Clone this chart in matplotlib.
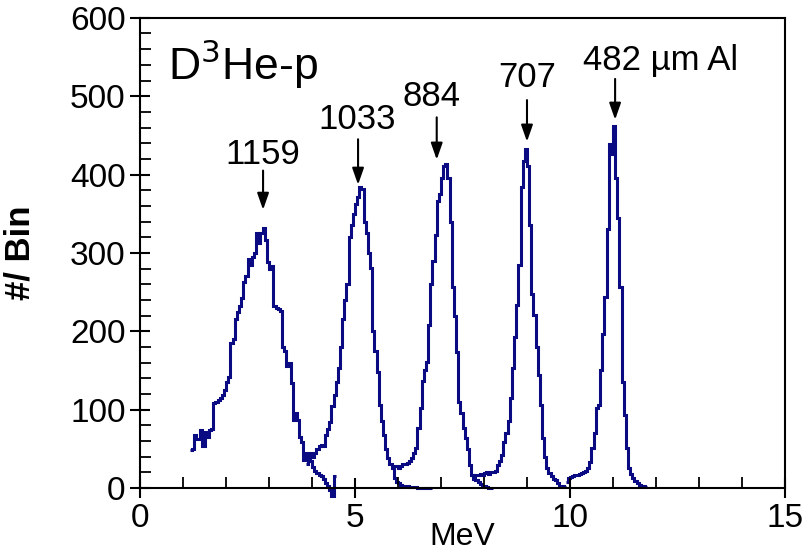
import numpy as np
import matplotlib
matplotlib.use("Agg")
import matplotlib.pyplot as plt
from matplotlib.ticker import MultipleLocator

plt.rcParams['font.family'] = ['Liberation Sans', 'DejaVu Sans']

# bin width of the spectra (MeV)
bin_w = 0.05

# each filter thickness: first bin edge (MeV) and counts per bin
start_1159 = 1.15
counts_1159 = [49, 50, 68, 62, 62, 74, 53, 72, 65, 74, 75, 108, 110, 112, 115,
               118, 125, 135, 142, 185, 190, 215, 225, 232, 243, 263, 270, 292,
               285, 295, 300, 326, 313, 325, 332, 317, 288, 280, 283, 232, 230,
               228, 226, 180, 175, 155, 160, 134, 87, 95, 87, 65, 58, 36, 45,
               40, 35, 27, 22, 19, 17, 15, 12, 6, 3, -3, -10, 15]

start_1033 = 3.85
counts_1033 = [30, 40, 45, 40, 45, 50, 53, 55, 53, 68, 75, 84, 104, 119, 135,
               153, 180, 215, 240, 260, 320, 336, 350, 362, 371, 384, 381, 340,
               325, 300, 281, 200, 175, 148, 106, 85, 68, 50, 38, 30, 26, 13, 8,
               6, 4, 3, 2, 2, 1, 1, 1, 1, 0, 0, 0, 0, 0, 0, 0]

start_884 = 5.85
counts_884 = [26, 28, 28, 26, 28, 30, 30, 32, 35, 38, 45, 51, 77, 102, 136, 150,
              161, 208, 260, 289, 323, 366, 375, 396, 411, 413, 395, 340, 256,
              220, 174, 110, 95, 77, 64, 50, 29, 17, 12, 10, 8, 5, 3, 2, 1, 0, 0]

start_707 = 7.7
counts_707 = [17, 15, 16, 17, 18, 17, 19, 20, 18, 20, 20, 22, 29, 35, 42, 59,
              70, 85, 115, 153, 192, 234, 285, 384, 417, 432, 411, 336, 247, 221,
              180, 144, 106, 64, 40, 26, 19, 15, 12, 10, 6, 3, 2, 1]

start_482 = 9.9
counts_482 = [8, 13, 14, 15, 17, 17, 18, 19, 20, 22, 26, 33, 51, 70, 102, 106,
              150, 196, 244, 330, 439, 426, 462, 396, 345, 256, 135, 93, 51, 26,
              18, 13, 9, 6, 4, 3, 2, 1]

spectra = [(start_1159, counts_1159), (start_1033, counts_1033),
           (start_884, counts_884), (start_707, counts_707),
           (start_482, counts_482)]

# labels: text, text position, arrow tip, arrow tail
labels = ["1159", "1033", "884", "707", "482 \u00b5m Al"]
label_xy = [(2.85, 426), (5.05, 470), (6.78, 499), (9.0, 524), (10.3, 546)]
arrow_tip = [(2.86, 355), (5.07, 387), (6.9, 419), (9.0, 442), (11.05, 470)]
arrow_tail = [(2.86, 405), (5.07, 445), (6.9, 473), (9.0, 495), (11.05, 522)]

line_color = '#0a0a82'

fig = plt.figure(figsize=(8.1, 5.57), dpi=100)
ax = fig.add_axes([0.173, 0.124, 0.796, 0.844])

for start, counts in spectra:
    counts = np.array(counts, dtype=float)
    edges = start + bin_w * np.arange(len(counts) + 1)
    ax.stairs(counts, edges, color=line_color, lw=2.2, baseline=None, clip_on=False)

for i, txt in enumerate(labels):
    ha = 'left' if i == 4 else 'center'
    ax.text(label_xy[i][0], label_xy[i][1], txt, fontsize=25, ha=ha, va='center')
    ax.annotate('', xy=arrow_tip[i], xytext=arrow_tail[i],
                arrowprops=dict(arrowstyle='-|>,head_width=0.35,head_length=1.0',
                                color='black', lw=1.5, shrinkA=0, shrinkB=0))

ax.text(0.65, 541, "D$^{3}$He-p", fontsize=32, ha='left', va='center')

ax.set_xlim(0, 15)
ax.set_ylim(0, 600)
ax.xaxis.set_major_locator(MultipleLocator(5))
ax.xaxis.set_minor_locator(MultipleLocator(1))
ax.yaxis.set_major_locator(MultipleLocator(100))
ax.yaxis.set_minor_locator(MultipleLocator(20))
ax.tick_params(which='major', direction='inout', length=14, width=1.5,
               labelsize=24, top=False, right=False)
ax.tick_params(which='minor', direction='in', length=8, width=1.3,
               top=False, right=False)
for s in ax.spines.values():
    s.set_linewidth(1.5)

ax.set_xlabel("MeV", fontsize=23, labelpad=-8)
ax.set_ylabel("#/ Bin", fontsize=25, fontweight='bold', labelpad=24)

fig.savefig("out.png", dpi=100)
